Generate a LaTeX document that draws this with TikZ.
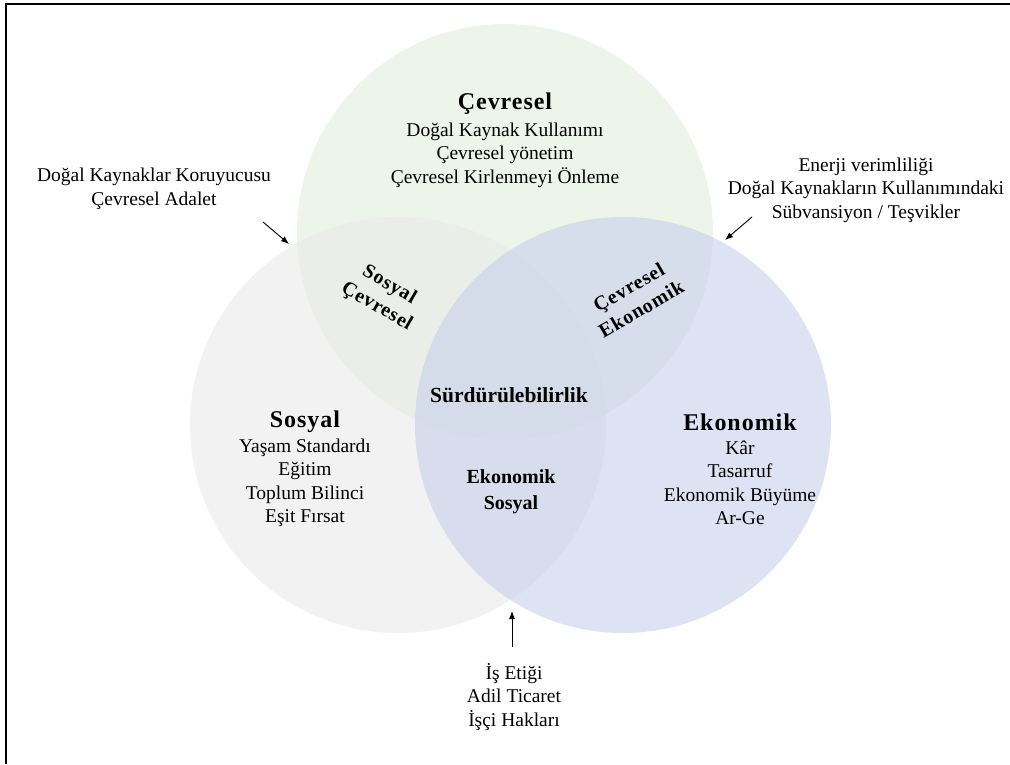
\documentclass[tikz,border=0pt]{standalone}
\usepackage{fontspec}
\setmainfont{Liberation Serif}
\newfontfamily\spacedfont[LetterSpace=4]{Liberation Serif}
\usetikzlibrary{arrows.meta}
\definecolor{cgreen}{RGB}{225,237,218}
\definecolor{cgray}{RGB}{233,233,233}
\definecolor{cblue}{RGB}{198,208,235}
\begin{document}
\begin{tikzpicture}[x=1pt,y=-1pt,
  circ/.style={circle, minimum size=416pt, inner sep=0pt, fill opacity=0.6, draw=none},
  body/.style={font=\fontsize{19.5}{23.5}\selectfont, align=center, inner sep=0pt},
  title/.style={font=\fontsize{24}{28}\selectfont\spacedfont\bfseries, inner sep=0pt},
  mid/.style={font=\fontsize{20}{25}\selectfont\spacedfont\bfseries, align=center, inner sep=0pt},
  arr/.style={-{Latex[length=8pt,width=6pt]}, line width=0.9pt}]
\useasboundingbox (0,0) rectangle (1010,764);
% frame
\draw[line width=2.2pt] (6,764) -- (6,4) -- (1010,4);
% circles
\node[circ, fill=cgreen] (cev) at (505,232) {};
\node[circ, fill=cgray] (sos) at (398,425) {};
\node[circ, fill=cblue] (eko) at (623,425) {};
% main groups
\node[title] (cevt) at (505,104) {Çevresel};
\node[body] (cevb) at (505,155) {Doğal Kaynak Kullanımı\\Çevresel yönetim\\Çevresel Kirlenmeyi Önleme};
\node[title] (sost) at (305,422) {Sosyal};
\node[body] (sosb) at (305,483) {Yaşam Standardı\\Eğitim\\Toplum Bilinci\\Eşit Fırsat};
\node[title] (ekot) at (740,422) {Ekonomik};
\node[body] (ekob) at (740,483) {Kâr\\Tasarruf\\Ekonomik Büyüme\\Ar-Ge};
% intersections
\node[mid, rotate=-30] (sc) at (383,296) {Sosyal\\Çevresel};
\node[mid, rotate=30] (ce) at (635,298) {Çevresel\\Ekonomik};
\node[font=\fontsize{21.5}{25}\selectfont\bfseries, inner sep=0pt] (sur) at (509,395) {Sürdürülebilirlik};
\node[font=\fontsize{20}{26}\selectfont\bfseries, align=center, inner sep=0pt] (es) at (511,492) {Ekonomik\\Sosyal};
% outer texts
\node[body] (lt) at (154,189) {Doğal Kaynaklar Koruyucusu\\Çevresel Adalet};
\node[body] (rt) at (866,190) {Enerji verimliliği\\Doğal Kaynakların Kullanımındaki\\Sübvansiyon / Teşvikler};
\node[body] (bt) at (514,697) {İş Etiği\\Adil Ticaret\\İşçi Hakları};
% arrows
\coordinate (la) at (263,222); \coordinate (lb) at (289,244);
\coordinate (ra) at (752,217); \coordinate (rb) at (725,240);
\coordinate (ba) at (512,647); \coordinate (bb) at (512,611);
\draw[arr] (la) -- (lb);
\draw[arr] (ra) -- (rb);
\draw[arr] (ba) -- (bb);
\end{tikzpicture}
\end{document}
